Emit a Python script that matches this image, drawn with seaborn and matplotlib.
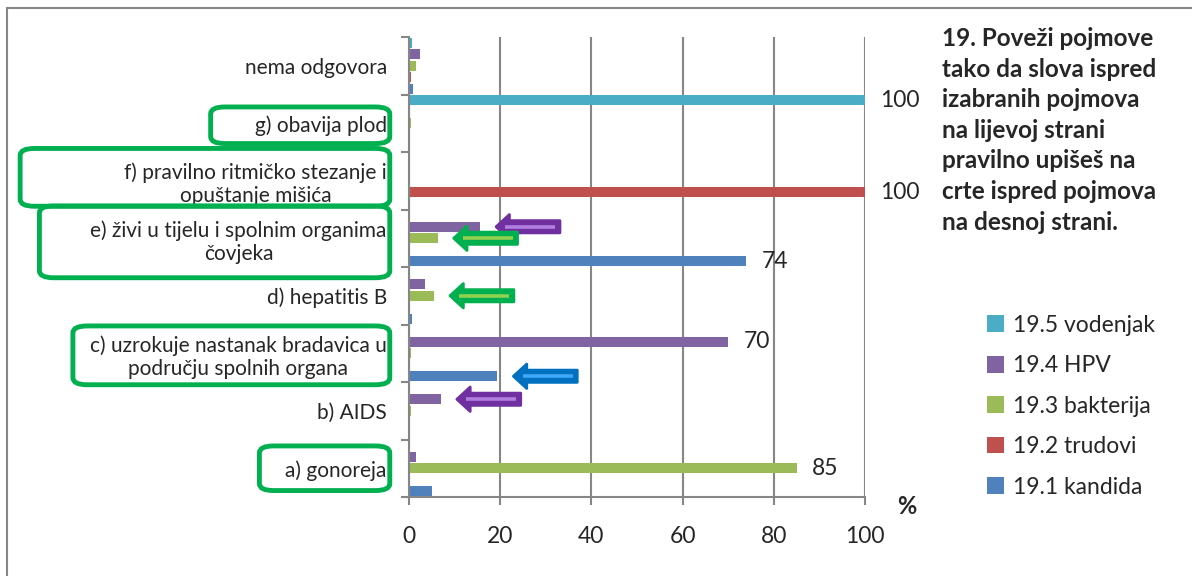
import numpy as np
import pandas as pd
import seaborn as sns
import matplotlib.pyplot as plt
from matplotlib.lines import Line2D
from matplotlib.patches import FancyBboxPatch
from matplotlib.ticker import FixedLocator

# Podaci (odozgo prema dolje)
kategorije = [
    "nema odgovora",
    "g) obavija plod",
    "f) pravilno ritmičko stezanje i\nopuštanje mišića",
    "e) živi u tijelu i spolnim organima\nčovjeka",
    "d) hepatitis B",
    "c) uzrokuje nastanak bradavica u\npodručju spolnih organa",
    "b) AIDS",
    "a) gonoreja",
]
serije = ["19.5 vodenjak", "19.4 HPV", "19.3 bakterija", "19.2 trudovi", "19.1 kandida"]
vodenjak = [0.7, 100, 0, 0, 0, 0, 0, 0]
hpv = [2.5, 0, 0, 15.6, 3.5, 70, 7, 1.5]
bakterija = [1.5, 0.5, 0, 6.3, 5.5, 0.5, 0.5, 85]
trudovi = [0.5, 0, 100, 0, 0, 0, 0, 0]
kandida = [0.8, 0, 0, 74, 0.6, 19.4, 0, 5]
boje = ["#4BACC6", "#8064A2", "#9BBB59", "#C0504D", "#4F81BD"]

# oznake vrijednosti: (kategorija, serija)
oznake = [(1, 0), (2, 3), (3, 4), (5, 1), (7, 2)]
# strelice: (kategorija, serija, tamna, svijetla)
strelice = [
    (3, 1, "#7030A0", "#B07FE0"),
    (3, 2, "#00B050", "#92D050"),
    (4, 2, "#00B050", "#92D050"),
    (5, 4, "#0070C0", "#3FA9F5"),
    (6, 1, "#7030A0", "#B07FE0"),
]
# okviri oko oznaka: indeks -> (lijevo, gore, dolje) razmak u px
okviri = {1: (44, 8, 8), 2: (104, 14, 0), 3: (51, 14, 14), 5: (17, 9, 6), 7: (26, 14, 10)}

vrijednosti = [vodenjak, hpv, bakterija, trudovi, kandida]
df = pd.DataFrame({
    "kategorija": np.tile(kategorije, len(serije)),
    "serija": np.repeat(serije, len(kategorije)),
    "vrijednost": np.concatenate(vrijednosti),
})

sns.set_theme(style="white")
plt.rcParams["font.family"] = ["Lato", "DejaVu Sans"]

fig = plt.figure(figsize=(11.92, 5.76), dpi=100)
ax = fig.add_axes([409 / 1192, 1 - 497 / 576, 456 / 1192, 460 / 576])

sns.barplot(data=df, y="kategorija", x="vrijednost", hue="serija",
            order=kategorije, hue_order=serije, palette=boje, saturation=1,
            orient="h", width=1.0, gap=0.12, errorbar=None, ax=ax,
            linewidth=0)

ax.set_xlim(0, 100)
ax.set_ylim(len(kategorije) - 0.5, -0.5)
ax.set_xticks([0, 20, 40, 60, 80, 100])
ax.set_xlabel("")
ax.set_ylabel("")
ax.grid(axis="x", color="#868686", lw=1.5)
ax.set_axisbelow(True)
for s in ["top", "right"]:
    ax.spines[s].set_visible(False)
for s in ["left", "bottom"]:
    ax.spines[s].set_color("#868686")
    ax.spines[s].set_linewidth(1.5)
ax.yaxis.set_minor_locator(FixedLocator(np.arange(-0.5, len(kategorije), 1)))
ax.tick_params(axis="y", which="major", length=0, pad=16, labelsize=15)
ax.tick_params(axis="y", which="minor", length=6, width=1.5, color="#868686", left=True)
ax.tick_params(axis="x", length=6, width=1.5, color="#868686", labelsize=16.5, pad=15, bottom=True)
for lab in ax.get_yticklabels():
    lab.set_multialignment("center")

# oznake vrijednosti
for si, cont in enumerate(ax.containers):
    labs = []
    for ci, p in enumerate(cont):
        labs.append(f"{p.get_width():.0f}" if (ci, si) in oznake else "")
    ax.bar_label(cont, labels=labs, padding=11, fontsize=16.5)

# strelice
for ci, si, tamna, svijetla in strelice:
    p = ax.containers[si][ci]
    y = p.get_y() + p.get_height() / 2
    vrh = p.get_width() + 3.5
    ax.annotate("", xy=(vrh, y), xytext=(vrh + 14, y),
                arrowprops=dict(arrowstyle="simple,head_length=0.6,head_width=1.1,tail_width=0.55",
                                mutation_scale=16, fc=tamna, ec=tamna, lw=2,
                                shrinkA=0, shrinkB=0), zorder=5)
    ax.plot([vrh + 2.0, vrh + 13], [y, y], color=svijetla, lw=2.6,
            solid_capstyle="butt", zorder=6)

# legenda
h, l = ax.get_legend_handles_labels()
ax.legend(h, l, loc="upper left", bbox_to_anchor=(966 / 1192, 1 - 294 / 576),
          bbox_transform=fig.transFigure, frameon=False, fontsize=16.5,
          handlelength=0.75, handleheight=0.75, handletextpad=0.4, labelspacing=0.85)

fig.text(942 / 1192, 1 - 27 / 576,
         "19. Poveži pojmove\ntako da slova ispred\nizabranih pojmova\nna lijevoj strani\n"
         "pravilno upišeš na\ncrte ispred pojmova\nna desnoj strani.",
         ha="left", va="top", fontsize=17.5, fontweight="bold", linespacing=1.4)
fig.text(907 / 1192, 1 - 507 / 576, "%", ha="center", va="center",
         fontsize=17, fontweight="bold")

# okvir slike
fig.add_artist(Line2D([7 / 1192, 7 / 1192], [0, 1 - 8 / 576], color="#868686", lw=1.5))
fig.add_artist(Line2D([7 / 1192, 1], [1 - 8 / 576, 1 - 8 / 576], color="#868686", lw=1.5))

# zeleni okviri oko odgovora
fig.canvas.draw()
W, H = fig.get_size_inches() * fig.dpi
for i, lab in enumerate(ax.get_yticklabels()):
    if i not in okviri:
        continue
    lijevo, gore, dolje = okviri[i]
    bb = lab.get_window_extent()
    x0 = bb.x0 - lijevo
    x1 = bb.x1 + 3
    y0 = bb.y0 - dolje
    y1 = bb.y1 + gore
    fig.add_artist(FancyBboxPatch((x0 / W, y0 / H), (x1 - x0) / W, (y1 - y0) / H,
                                  boxstyle="round,pad=0,rounding_size=0.012",
                                  transform=fig.transFigure, fill=False,
                                  ec="#00B050", lw=3.5))

fig.savefig("out.png", dpi=100)
